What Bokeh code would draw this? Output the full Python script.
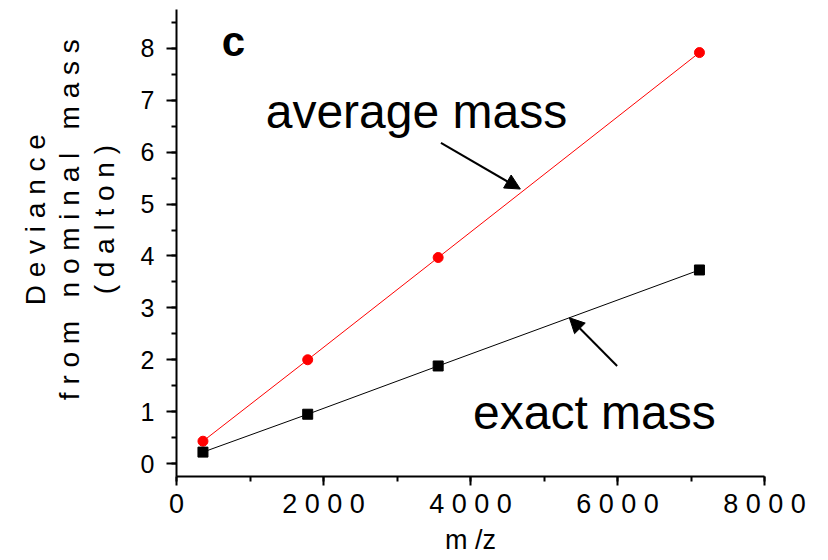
from bokeh.plotting import figure
from bokeh.models import (Range1d, SingleIntervalTicker, Label, Arrow, NormalHead)
from bokeh.embed import file_html
from bokeh.resources import INLINE

# data
mz = [360, 1785, 3560, 7115]
average_mass = [0.43, 2.00, 3.97, 7.92]
exact_mass = [0.22, 0.95, 1.88, 3.73]
x_ticks = [0, 2000, 4000, 6000, 8000]
x_tick_labels = ["0", "2 0 0 0", "4 0 0 0", "6 0 0 0", "8 0 0 0"]
y_title_lines = ["D e v i a n c e", "f r o m \u00a0 n o m i n a l \u00a0 m a s s", "( d a l t o n )"]

FONT = "Liberation Sans"

p = figure(width=828, height=560, output_backend="svg", toolbar_location=None,
           x_range=Range1d(0, 8000), y_range=Range1d(-0.25, 8.75),
           min_border_left=176, min_border_right=64, min_border_top=9, min_border_bottom=84)
p.outline_line_color = None
p.xgrid.visible = False
p.ygrid.visible = False
p.background_fill_color = "white"
p.border_fill_color = "white"

p.xaxis.ticker = SingleIntervalTicker(interval=2000, num_minor_ticks=2)
p.yaxis.ticker = SingleIntervalTicker(interval=1, num_minor_ticks=2)
p.xaxis.major_label_overrides = {t: l for t, l in zip(x_ticks, x_tick_labels)}

for ax in (p.xaxis, p.yaxis):
    ax.axis_line_width = 2
    ax.axis_line_color = "black"
    ax.major_tick_line_width = 2
    ax.minor_tick_line_width = 2
    ax.major_tick_in = 0
    ax.minor_tick_in = 0
    ax.minor_tick_out = 5
    ax.major_label_text_font = FONT
    ax.major_label_text_color = "black"
    ax.axis_label_text_font = FONT
    ax.axis_label_text_font_style = "normal"
    ax.axis_label_text_color = "black"

p.xaxis.major_tick_out = 9
p.yaxis.major_tick_out = 10
p.xaxis.major_label_text_font_size = "27px"
p.yaxis.major_label_text_font_size = "25px"
p.xaxis.major_label_standoff = 3
p.yaxis.major_label_standoff = 12
p.xaxis.axis_label = "m /z"
p.xaxis.axis_label_text_font_size = "27px"
p.xaxis.axis_label_standoff = 3

# leading no-break spaces shift the centred title up to where the reference has it
pad = "\u00a0" * 6
p.yaxis.axis_label = "\n".join(pad + s for s in y_title_lines)
p.yaxis.axis_label_text_font_size = "28px"
p.yaxis.axis_label_text_line_height = 1.1
p.yaxis.axis_label_standoff = 18

# series
p.line(mz, average_mass, line_color="#ff0000", line_width=1)
p.scatter(mz, average_mass, marker="circle", size=10, fill_color="#ff0000", line_color="#ff0000")
p.line(mz, exact_mass, line_color="black", line_width=1)
p.scatter(mz, exact_mass, marker="square", size=10, fill_color="black", line_color="black")

# annotations
p.add_layout(Label(x=617, y=8.14, text="c", text_font=FONT, text_font_size="42px",
                   text_font_style="bold", text_baseline="alphabetic", text_color="black"))
p.add_layout(Label(x=1214, y=6.78, text="average mass", text_font=FONT, text_font_size="48px",
                   text_baseline="alphabetic", text_color="black"))
p.add_layout(Label(x=4034, y=0.98, text="exact mass", text_font=FONT, text_font_size="48px",
                   text_baseline="alphabetic", text_color="black"))

p.add_layout(Arrow(x_start=3598, y_start=6.18, x_end=4678, y_end=5.29, line_width=2,
                   end=NormalHead(size=15, fill_color="black", line_color="black")))
p.add_layout(Arrow(x_start=5995, y_start=1.88, x_end=5345, y_end=2.81, line_width=2,
                   end=NormalHead(size=15, fill_color="black", line_color="black")))

open("out.html", "w").write(file_html(p, INLINE))
